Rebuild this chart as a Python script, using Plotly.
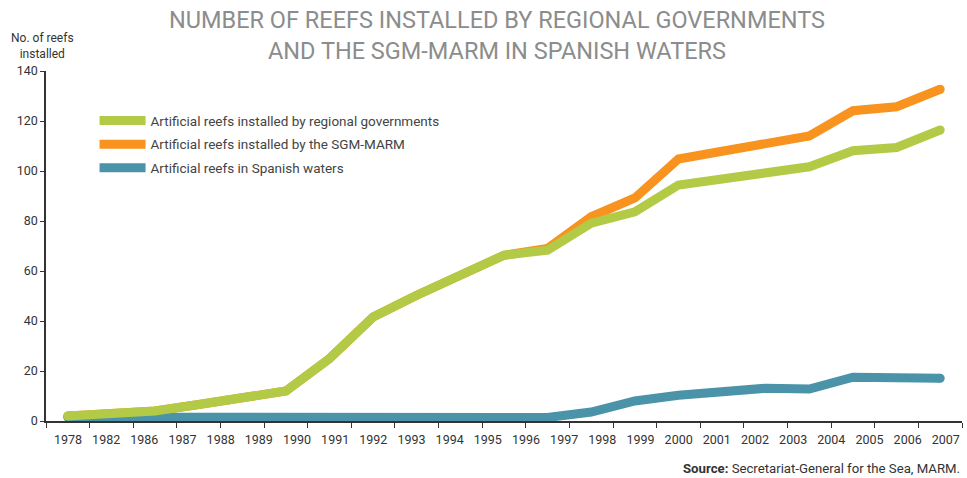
import plotly.graph_objects as go

# ---- data ----
idx = list(range(21))  # data point slots (centres of the 21 tick intervals)
regional = [2, 3, 4, 6.6, 9.3, 12, 25, 41.6, 50.3, 58.3, 66.3, 68.3, 79.1, 83.7,
            94.4, 96.8, 99.2, 101.7, 108.1, 109.4, 116.4]
sgm_marm = [2, 3, 4, 6.6, 9.3, 12, 25, 41.6, 50.3, 58.3, 66.3, 69, 81.7, 89.2,
            104.8, 107.9, 111, 114, 124.1, 125.7, 132.7]
spanish = [1.5, 1.5, 1.5, 1.5, 1.5, 1.5, 1.5, 1.5, 1.5, 1.5, 1.5, 1.4, 3.6, 8.0,
           10.3, 12.0, 13.1, 12.8, 17.5, 17.3, 17.1]
year_labels = ["1978", "1982", "1986", "1987", "1988", "1989", "1990", "1991",
               "1992", "1993", "1994", "1995", "1996", "1997", "1998", "1999",
               "2000", "2001", "2002", "2003", "2004", "2005", "2006", "2007"]
series_names = ["Artificial reefs installed by regional governments",
                "Artificial reefs installed by the SGM-MARM",
                "Artificial reefs in Spanish waters"]

GREEN = "#b3ca46"
ORANGE = "#f7931e"
TEAL = "#4a93a8"
LW = 9
FONT = "Roboto"

fig = go.Figure()

def add_series(vals, name, color, rank):
    fig.add_trace(go.Scatter(
        x=idx, y=vals, mode="lines", name=name,
        line=dict(color=color, width=LW),
        legendrank=rank, legendgroup=name, hoverinfo="skip"))
    fig.add_trace(go.Scatter(
        x=[idx[0], idx[-1]], y=[vals[0], vals[-1]], mode="markers",
        marker=dict(color=color, size=LW, line=dict(width=0)),
        showlegend=False, hoverinfo="skip"))

add_series(sgm_marm, series_names[1], ORANGE, 2)
add_series(spanish, series_names[2], TEAL, 3)
add_series(regional, series_names[0], GREEN, 1)

# invisible trace to carry the label axis
fig.add_trace(go.Scatter(x=[0], y=[0], xaxis="x2", mode="markers",
                         marker=dict(opacity=0), showlegend=False,
                         hoverinfo="skip"))

fig.update_layout(
    width=967, height=478,
    margin=dict(l=46, r=5, t=71, b=57),
    paper_bgcolor="white", plot_bgcolor="white",
    font=dict(family=FONT, size=12, color="#333"),
    showlegend=True,
    legend=dict(x=0.053, y=0.902, xanchor="left", yanchor="top",
                bgcolor="rgba(0,0,0,0)", tracegroupgap=3, itemwidth=46,
                font=dict(family=FONT, size=13.5, color="#444")),
    xaxis=dict(range=[-0.5, 20.5], tickmode="array",
               tickvals=[i - 0.5 for i in range(22)],
               showticklabels=False, ticks="outside", ticklen=5,
               tickcolor="#333", tickwidth=1,
               showline=True, linecolor="#333", linewidth=1.5,
               showgrid=False, zeroline=False, fixedrange=True),
    xaxis2=dict(overlaying="x", anchor="y", side="bottom",
                range=[-0.576, 23.424], tickmode="array",
                tickvals=list(range(len(year_labels))), ticktext=year_labels,
                ticks="outside", ticklen=7, tickcolor="rgba(0,0,0,0)",
                tickfont=dict(size=12.5, color="#333"),
                showline=False, showgrid=False, zeroline=False),
    yaxis=dict(range=[0, 140], tickmode="array",
               tickvals=[0, 20, 40, 60, 80, 100, 120, 140],
               ticks="outside", ticklen=4, tickcolor="#333",
               showline=True, linecolor="#333", linewidth=1.5,
               tickfont=dict(size=12.5, color="#333"),
               showgrid=False, zeroline=False),
)

fig.add_annotation(
    text="NUMBER OF REEFS INSTALLED BY REGIONAL GOVERNMENTS<br>AND THE SGM-MARM IN SPANISH WATERS",
    xref="paper", yref="paper", x=(497 - 46) / 916, y=1 + (71 - 4) / 350,
    xanchor="center", yanchor="top", showarrow=False, align="center",
    font=dict(family=FONT, size=23.5, color="#8c8c8c"))

fig.add_annotation(
    text="No. of reefs<br>installed",
    xref="paper", yref="paper", x=(42 - 46) / 916, y=1 + (71 - 29) / 350,
    xanchor="center", yanchor="top", showarrow=False, align="center",
    font=dict(family=FONT, size=12, color="#333"))

fig.add_annotation(
    text="<b>Source:</b> Secretariat-General for the Sea, MARM.",
    xref="paper", yref="paper", x=1 + (962 - 962) / 916, y=-(459 - 421) / 350,
    xanchor="right", yanchor="top", showarrow=False,
    font=dict(family=FONT, size=13.2, color="#333"))

fig.write_html("out.html")
